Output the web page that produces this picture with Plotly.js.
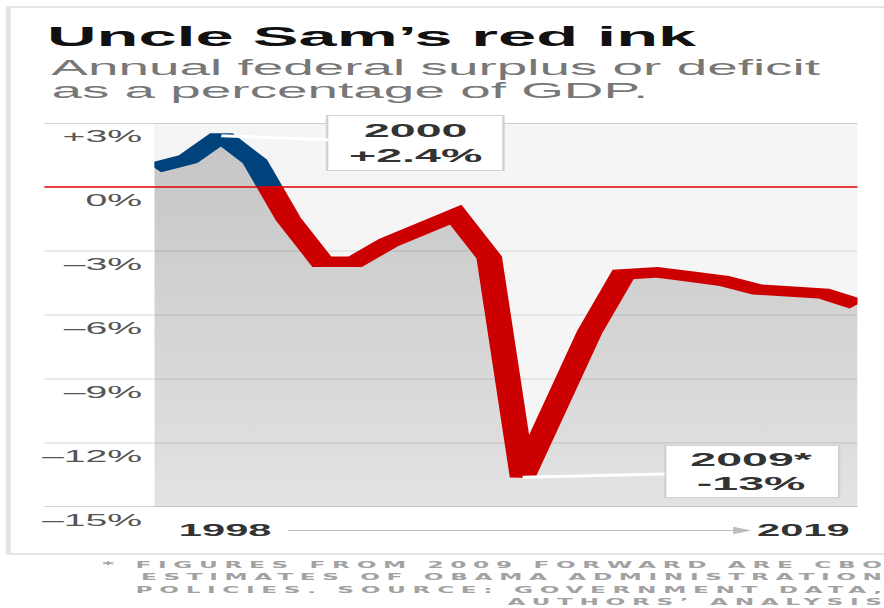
<!DOCTYPE html>
<html>
<head>
<meta charset="utf-8">
<script src="https://cdn.plot.ly/plotly-3.0.1.min.js"></script>
<style>
  html, body { margin: 0; padding: 0; background: #ffffff; overflow: hidden; }
  #chart { transform-origin: 0 0; }
</style>
</head>
<body>
<div id="chart"></div>
<script>
// ---------------- data ----------------
const years = [1998, 1999, 2000, 2001, 2002, 2003, 2004, 2005, 2006, 2007, 2008,
               2009, 2010, 2011, 2012, 2013, 2014, 2015, 2016, 2017, 2018, 2019];
const deficitPct = [0.9, 1.3, 2.4, 1.2, -1.5, -3.5, -3.5, -2.6, -1.9, -1.3, -3.3,
                    -13.6, -10.2, -6.8, -4.1, -4.0, -4.2, -4.4, -4.8, -4.9, -5.0, -5.5];
const yTickVals = [3, 0, -3, -6, -9, -12, -15];
const yTickText = ['+3%', '0%', '\u20133%', '\u20136%', '\u20139%', '\u201312%', '\u201315%'];
const titleText = 'Uncle Sam\u2019s red ink';
const subtitleLines = ['Annual federal surplus or deficit', 'as a percentage of GDP.'];
const callouts = [
  { year: 2000, value: 2.4, text: '2000<br>+2.4%' },
  { year: 2009, value: -13.6, text: '2009*<br>-13%' }
];
const startLabel = '1998';
const endLabel = '2019';
const footnote = '* FIGURES FROM 2009 FORWARD ARE CBO<br>ESTIMATES OF OBAMA ADMINISTRATION<br>POLICIES. SOURCE: GOVERNMENT DATA,<br>AUTHORS\u2019 ANALYSIS';

// ---------------- geometry (reference is horizontally stretched) ----------------
const S = 2.45;               // horizontal stretch factor
const FULL_W = 884, H = 608;
const W = FULL_W / S;
const plotL = 155, plotR = 858, plotT = 123, plotB = 507; // reference px
const px = v => (v - plotL) / (plotR - plotL);             // ref x -> paper x
const py = v => (plotB - v) / (plotB - plotT);             // ref y -> paper y

const yMin = -15, yMax = 3;
const FONT = 'Liberation Sans, Arial, sans-serif';
const BLUE = '#00427c', RED = '#cc0000';

// split line at zero crossing (computed from the data)
let k = 0;
while (k < deficitPct.length - 1 && !(deficitPct[k] >= 0 && deficitPct[k + 1] < 0)) k++;
const t = deficitPct[k] / (deficitPct[k] - deficitPct[k + 1]);
const xCross = years[k] + t * (years[k + 1] - years[k]);

const fillTrace = {
  x: years.concat([years[years.length - 1], years[0]]),
  y: deficitPct.concat([yMin, yMin]),
  mode: 'lines', fill: 'toself',
  line: { width: 0, color: 'rgba(0,0,0,0)' },
  fillcolor: 'rgba(0,0,0,0.13)',
  fillgradient: { type: 'vertical', start: yMin, stop: yMax,
    colorscale: [[0, 'rgba(0,0,0,0.075)'], [1, 'rgba(0,0,0,0.2)']] },
  hoverinfo: 'skip', showlegend: false
};
const LW = 10.5;
const blueTrace = {
  x: years.slice(0, k + 1).concat([xCross]),
  y: deficitPct.slice(0, k + 1).concat([0]),
  mode: 'lines', line: { color: BLUE, width: LW }, showlegend: false
};
const redTrace = {
  x: [xCross].concat(years.slice(k + 1)),
  y: [0].concat(deficitPct.slice(k + 1)),
  mode: 'lines', line: { color: RED, width: LW }, showlegend: false
};

// frame, gridlines (extend left into label column) + zero line
const shapes = [];
shapes.push({ type: 'rect', xref: 'paper', yref: 'paper', x0: px(9), x1: px(900), y0: py(554), y1: py(7),
  line: { color: '#e4e4e4', width: 2 }, fillcolor: 'rgba(0,0,0,0)', layer: 'below' });
yTickVals.forEach(v => {
  if (v === 0) return;
  const edge = (v === yMax || v === yMin);
  shapes.push({ type: 'line', xref: 'paper', yref: 'y', x0: px(45), x1: 1, y0: v, y1: v,
    line: { color: edge ? '#c2c2c2' : '#d6d6d6', width: edge ? 1.6 : 1 }, layer: 'below' });
});
shapes.push({ type: 'line', xref: 'paper', yref: 'y', x0: px(45), x1: 1, y0: 0, y1: 0,
  line: { color: '#e00000', width: 1.6 }, layer: 'above' });

const annotations = [];
// subtitle
annotations.push({ xref: 'paper', yref: 'paper', x: px(47), y: py(67.5), xanchor: 'left', yanchor: 'middle',
  text: subtitleLines[0], showarrow: false, font: { family: FONT, size: 22.4, color: '#777777' } });
annotations.push({ xref: 'paper', yref: 'paper', x: px(47), y: py(90.5), xanchor: 'left', yanchor: 'middle',
  text: subtitleLines[1], showarrow: false, font: { family: FONT, size: 22.4, color: '#777777' } });
// callouts
const calloutPos = [{ cx: 417, cy: 143, w: 175, h: 54 }, { cx: 752, cy: 472, w: 171, h: 51 }];
callouts.forEach((c, i) => {
  const p = calloutPos[i];
  const dataX = plotL + (c.year - years[0]) / (years[years.length - 1] - years[0]) * (plotR - plotL);
  const dataY = plotT + (yMax - c.value) / (yMax - yMin) * (plotB - plotT);
  annotations.push({ x: c.year, y: c.value, xref: 'x', yref: 'y', text: '<b>' + c.text + '</b>',
    showarrow: true, arrowhead: 0, arrowcolor: '#ffffff', arrowwidth: 3,
    ax: (p.cx - dataX) / S, ay: p.cy - dataY,
    width: p.w / S, height: p.h, borderpad: 0,
    bgcolor: '#ffffff', bordercolor: '#d2d2d2', borderwidth: 1,
    font: { family: FONT, size: 19, color: '#333333' }, align: 'center' });
});
// x-axis start/end labels and arrow
annotations.push({ xref: 'paper', yref: 'paper', x: px(225), y: py(530), text: '<b>' + startLabel + '</b>',
  showarrow: false, xanchor: 'center', yanchor: 'middle', font: { family: FONT, size: 17, color: '#333333' } });
annotations.push({ xref: 'paper', yref: 'paper', x: px(803.5), y: py(530), text: '<b>' + endLabel + '</b>',
  showarrow: false, xanchor: 'center', yanchor: 'middle', font: { family: FONT, size: 17, color: '#333333' } });
annotations.push({ xref: 'paper', yref: 'paper', x: px(752), y: py(530.5), text: '',
  showarrow: true, ax: -(752 - 285) / S, ay: 0, arrowhead: 2, arrowsize: 1.5, arrowwidth: 1,
  arrowcolor: '#bbbbbb' });
// footnote
annotations.push({ xref: 'paper', yref: 'paper', x: px(895), y: py(583), xanchor: 'right', yanchor: 'middle',
  align: 'right', text: footnote, showarrow: false,
  font: { family: 'DejaVu Sans, sans-serif', size: 9.5, color: '#a2a2a2', weight: 'bold' } });

const layout = {
  width: W, height: H, autosize: false,
  margin: { l: plotL / S, r: (FULL_W - plotR) / S, t: plotT, b: H - plotB, pad: 0 },
  paper_bgcolor: '#ffffff', plot_bgcolor: '#f5f5f5',
  title: { text: titleText, xref: 'container', yref: 'container', x: 47 / FULL_W, xanchor: 'left',
    y: 1 - 36 / H, yanchor: 'middle', pad: { l: 0, r: 0, t: 0, b: 0 },
    font: { family: FONT, size: 28, color: '#111111', weight: 'bold' } },
  xaxis: { range: [years[0], years[years.length - 1]], showgrid: false, zeroline: false,
    showticklabels: false, ticks: '', showline: false, fixedrange: true },
  yaxis: { range: [yMin, yMax], tickvals: yTickVals, ticktext: yTickText, showgrid: false,
    zeroline: false, ticks: '', showline: false, ticklabelshift: 13, ticklabelstandoff: 4,
    tickfont: { family: FONT, size: 16, color: '#555555' }, fixedrange: true },
  shapes: shapes, annotations: annotations, showlegend: false
};

const el = document.getElementById('chart');
el.style.width = W + 'px';
el.style.height = H + 'px';
el.style.transform = 'scaleX(' + S + ')';

Plotly.newPlot(el, [fillTrace, blueTrace, redTrace], layout, { staticPlot: true, displayModeBar: false })
  .then(() => {
    document.querySelectorAll('g.annotation').forEach(g => {
      if (g.textContent.indexOf('FIGURES') >= 0) {
        const tx = g.querySelector('text');
        if (tx) tx.style.letterSpacing = '2.7px';
      }
    });
  });
</script>
</body>
</html>
